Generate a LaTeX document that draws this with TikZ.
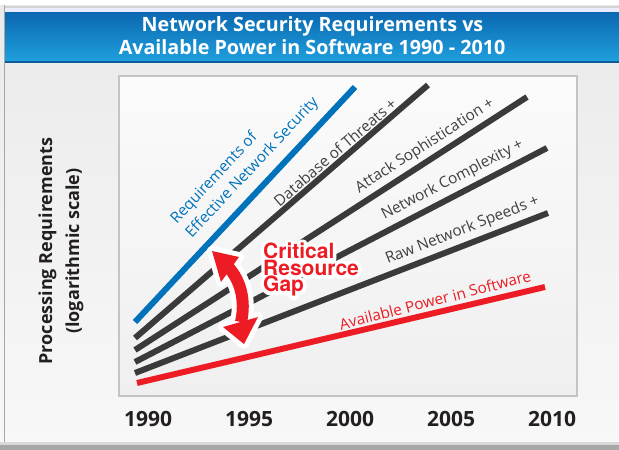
\documentclass[tikz,border=0pt]{standalone}
\usepackage{fontspec}
\setmainfont{Open Sans}
\newfontfamily\gapfont{texgyreheros-bold.otf}
\newcommand\halostart{\special{pdf:literal direct 2 Tr 1 j 1 J 7 w}}
\newcommand\haloend{\special{pdf:literal direct 0 Tr}}
\definecolor{bgtop}{HTML}{EAEAEA}
\definecolor{bgbot}{HTML}{F8F8F8}
\definecolor{plottop}{HTML}{FBFBFB}
\definecolor{plotbot}{HTML}{EFEFEF}
\definecolor{plotedge}{HTML}{C4C4C4}
\definecolor{bandtop}{HTML}{0B68B0}
\definecolor{bandbot}{HTML}{1FA0DE}
\definecolor{bandline}{HTML}{0A5C9E}
\definecolor{secblue}{HTML}{0072BC}
\definecolor{gapred}{HTML}{ED1C24}
\definecolor{lineg}{HTML}{3A3A3A}
\definecolor{labg}{HTML}{404040}
\definecolor{yeark}{HTML}{231F20}
\tikzset{
  trend/.style={line width=6pt, line cap=butt},
  lab/.style={inner sep=0pt, text=labg, font=\fontsize{15.3}{19}\selectfont},
  yearlab/.style={inner sep=0pt, text=yeark, font=\bfseries\fontsize{21}{24}\selectfont},
  titlelab/.style={inner sep=0pt, text=white, font=\bfseries\fontsize{19.7}{23}\selectfont, anchor=base},
  gaptext/.style={inner sep=0pt, anchor=north west, align=left, font=\gapfont\fontsize{21}{16.5}\selectfont},
}
\begin{document}
\begin{tikzpicture}[x=1pt,y=-1pt]
\useasboundingbox (0,0) rectangle (619,450);
% background
\shade[top color=bgtop, bottom color=bgbot] (0,0) rectangle (619,450);
\fill[white] (0,0) rectangle (619,5);
\draw[gray!70, line width=1pt] (4.5,5) -- (4.5,444);
% header
\fill[gray!35] (5,5.5) rectangle (619,7.5);
\fill[blue!8!white] (5,7.5) rectangle (619,12);
\shade[top color=bandtop, bottom color=bandbot] (5,12) rectangle (619,62);
\fill[bandline] (5,60.5) rectangle (619,62.5);
\node[titlelab] (t1) at (312.5,31) {Network Security Requirements vs};
\node[titlelab] (t2) at (312,54) {Available Power in Software 1990 - 2010};
% bottom bar
\fill[gray!30] (0,442) rectangle (619,445);
\fill[gray!85!black!60] (0,445) rectangle (619,450);
% plot box
\shade[top color=plottop, bottom color=plotbot] (119,76) rectangle (577,396);
\draw[plotedge, line width=1.5pt] (119,76) rectangle (577,396);
% trend lines
\coordinate (b0) at (135,322);   \coordinate (b1) at (355,87);
\coordinate (d0) at (135,338);   \coordinate (d1) at (428,85);
\coordinate (a0) at (135,350);   \coordinate (a1) at (527,97);
\coordinate (c0) at (135,362);   \coordinate (c1) at (547,148);
\coordinate (s0) at (135,373);   \coordinate (s1) at (548,213);
\coordinate (r0) at (137,383);   \coordinate (r1) at (545,287);
\draw[trend, secblue] (b0) -- (b1);
\draw[trend, lineg] (d0) -- (d1);
\draw[trend, lineg] (a0) -- (a1);
\draw[trend, lineg] (c0) -- (c1);
\draw[trend, lineg] (s0) -- (s1);
\draw[trend, gapred] (r0) -- (r1);
% labels
\node[lab, text=secblue, align=left, rotate=46.9, font=\fontsize{15.3}{20.5}\selectfont] (lb) at (245,161) {Requirements of\\Effective Network Security};
\node[lab, rotate=40.8] (ld) at (335,152) {Database of Threats +};
\node[lab, rotate=32.8] (la) at (425,146) {Attack Sophistication +};
\node[lab, rotate=27.4] (lc) at (452.5,180) {Network Complexity +};
\node[lab, rotate=21.2] (ls) at (462.5,230.5) {Raw Network Speeds +};
\node[lab, text=gapred, rotate=14.5] (lr) at (435,300) {Available Power in Software};
% gap arrow: white halo
\coordinate (g0) at (229,268);
\coordinate (g1) at (241,322);
\draw[white, line width=22pt] (g0) .. controls (240,280) and (246,300) .. (g1);
\filldraw[white, line width=10pt, line join=round] (212,251) -- (239,257) -- (221,282) -- cycle;
\filldraw[white, line width=10pt, line join=round] (223,327) -- (258,317) -- (244,344) -- cycle;
% gap arrow: red
\draw[gapred, line width=12pt] (g0) .. controls (240,280) and (246,300) .. (g1);
\fill[gapred] (212,251) -- (239,257) -- (221,282) -- cycle;
\fill[gapred] (223,327) -- (258,317) -- (244,344) -- cycle;
% gap label: white outline, then red text
\node[gaptext, text=white] (gh) at (263,243) {\halostart Critical\\\halostart Resource\\\halostart Gap\haloend};
\node[gaptext, text=gapred] (gl) at (263,243) {Critical\\Resource\\Gap};
% axis label
\node[inner sep=0pt, rotate=90, align=center, text=yeark, font=\bfseries\fontsize{18}{27}\selectfont] (yl) at (61,251) {Processing Requirements\\(logarithmic scale)};
% years
\node[yearlab] (y1) at (148,419) {1990};
\node[yearlab] (y2) at (249,419) {1995};
\node[yearlab] (y3) at (350,419) {2000};
\node[yearlab] (y4) at (451,419) {2005};
\node[yearlab] (y5) at (552,419) {2010};
\end{tikzpicture}
\end{document}
